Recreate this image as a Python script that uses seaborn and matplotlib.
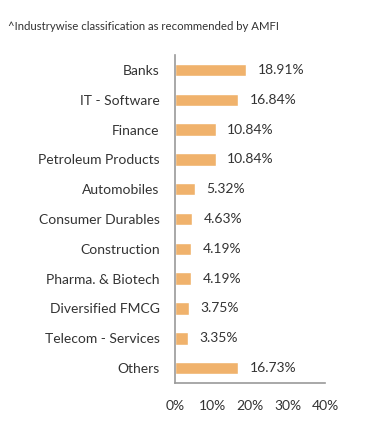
import matplotlib
matplotlib.use("Agg")
import matplotlib.pyplot as plt
import seaborn as sns
import pandas as pd
import numpy as np

# Industry allocation (%)
industries = ["Banks", "IT - Software", "Finance", "Petroleum Products",
              "Automobiles", "Consumer Durables", "Construction",
              "Pharma. & Biotech", "Diversified FMCG", "Telecom - Services",
              "Others"]
weights = [18.91, 16.84, 10.84, 10.84, 5.32, 4.63, 4.19, 4.19, 3.75, 3.35, 16.73]
x_ticks = [0, 10, 20, 30, 40]
note = "^Industrywise classification as recommended by AMFI"

bar_color = "#F0B26C"
axis_color = "#9A9A9A"
text_color = "#333333"

df = pd.DataFrame({"industry": industries, "weight": weights})

sns.set_style("white")
plt.rcParams["font.family"] = ["Lato", "DejaVu Sans"]

fig = plt.figure(figsize=(3.91, 4.36), dpi=100)
ax = fig.add_axes([0.4476, 0.1216, 0.3836, 0.752])

sns.barplot(data=df, x="weight", y="industry", color=bar_color,
            width=0.42, saturation=1, ax=ax)

# value labels to the right of each bar
for i, v in enumerate(weights):
    ax.text(v + 3.1, i, f"{v:.2f}%", va="center", ha="left",
            fontsize=10, color=text_color)

ax.set_xlim(0, 40)
ax.set_ylim(len(industries) - 0.5, -0.5)
ax.set_xticks(x_ticks)
ax.set_xticklabels([f"{t}%" for t in x_ticks], fontsize=10, color=text_color)
ax.set_yticks(np.arange(len(industries)))
ax.set_yticklabels(industries, fontsize=10, color=text_color)
ax.set_yticks(np.arange(len(industries) + 1) - 0.5, minor=True)
ax.tick_params(axis="y", which="major", length=0, pad=11)
ax.tick_params(axis="y", which="minor", length=4, width=1, color=axis_color, direction="out")
ax.tick_params(axis="x", length=4, width=1, color=axis_color, direction="out", pad=8)
ax.set_xlabel("")
ax.set_ylabel("")

for side in ["top", "right"]:
    ax.spines[side].set_visible(False)
for side in ["left", "bottom"]:
    ax.spines[side].set_color(axis_color)
    ax.spines[side].set_linewidth(1.2)

fig.text(8 / 391, 1 - 27 / 436, note, fontsize=8.2, color=text_color,
         va="center", ha="left")

fig.savefig("out.png", dpi=100)
